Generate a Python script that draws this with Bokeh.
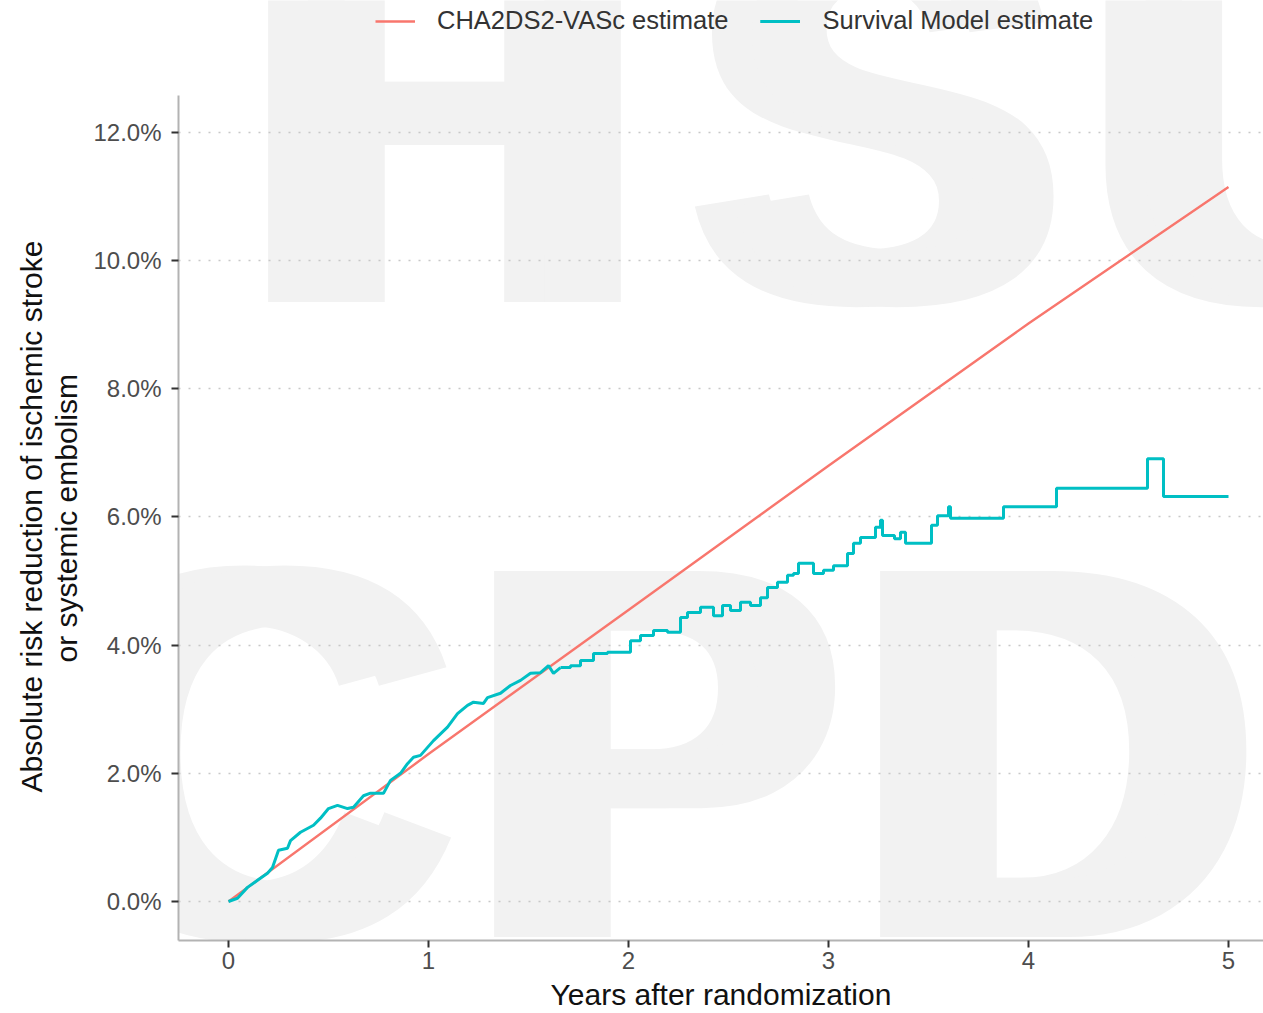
from bokeh.plotting import figure
from bokeh.models import Range1d, Legend, LegendItem, Label, PrintfTickFormatter, FixedTicker, Title
from bokeh.embed import file_html
from bokeh.resources import INLINE

# ---------------- data ----------------
x_ticks = [0, 1, 2, 3, 4, 5]
y_ticks = [0, 2, 4, 6, 8, 10, 12]

cha_years = [0, 1, 2, 3, 4, 5]
cha_arr = [0.0, 2.30, 4.55, 6.80, 9.02, 11.15]

# survival model estimate, early part (fine jagged path)
surv_t_early = [0.0, 0.045, 0.095, 0.145, 0.195, 0.22, 0.25, 0.295, 0.31, 0.36, 0.425, 0.46,
                0.5, 0.545, 0.595, 0.625, 0.675, 0.71, 0.775, 0.81, 0.86, 0.895, 0.925, 0.96,
                1.025, 1.095, 1.145, 1.195, 1.225, 1.275, 1.295, 1.36, 1.41, 1.46, 1.51, 1.56,
                1.6, 1.625, 1.66]
surv_y_early = [0.0, 0.05, 0.22, 0.33, 0.44, 0.53, 0.80, 0.83, 0.95, 1.08, 1.19, 1.30,
                1.45, 1.50, 1.45, 1.47, 1.65, 1.69, 1.69, 1.89, 2.00, 2.15, 2.25, 2.28,
                2.51, 2.72, 2.93, 3.06, 3.11, 3.09, 3.18, 3.25, 3.37, 3.45, 3.56, 3.57,
                3.68, 3.56, 3.65]

# survival model estimate, later part (step function)
surv_t_late = [1.66, 1.71, 1.76, 1.825, 1.895, 2.01, 2.06, 2.125, 2.195, 2.26, 2.295, 2.36,
               2.425, 2.47, 2.51, 2.56, 2.61, 2.66, 2.695, 2.745, 2.795, 2.825, 2.85, 2.925,
               2.975, 3.025, 3.095, 3.125, 3.16, 3.235, 3.26, 3.27, 3.33, 3.36, 3.385, 3.515,
               3.545, 3.6, 3.61, 3.875, 4.14, 4.595, 4.675, 5.0]
surv_y_late = [3.65, 3.68, 3.76, 3.87, 3.89, 4.07, 4.15, 4.23, 4.20, 4.43, 4.51, 4.59,
               4.46, 4.62, 4.54, 4.67, 4.62, 4.74, 4.90, 4.98, 5.09, 5.12, 5.28, 5.12,
               5.17, 5.24, 5.43, 5.59, 5.68, 5.84, 5.95, 5.71, 5.66, 5.76, 5.59, 5.87,
               6.02, 6.16, 5.98, 6.16, 6.45, 6.91, 6.32, 6.32]

y_title_lines = ["Absolute risk reduction of ischemic stroke", "or systemic embolism"]
x_title = "Years after randomization"
legend_labels = ["CHA2DS2-VASc estimate", "Survival Model estimate"]

# watermark letters
wm_letters = ["H", "S", "U", "C", "P", "D"]
wm_x = [0.02, 2.255, 4.225, -0.935, 1.15, 3.08]
wm_y = [12.235, 12.235, 12.235, 2.325, 2.325, 2.325]

RED = "#F8766D"
TEAL = "#00BFC4"
FONT = "Liberation Sans"

p = figure(width=1263, height=1013, output_backend="svg", toolbar_location=None,
           x_range=Range1d(-0.25, 5.175), y_range=Range1d(-0.609, 14.06),
           min_border_left=178, min_border_right=0, min_border_top=0, min_border_bottom=73,
           background_fill_color="white", border_fill_color="white")
p.outline_line_color = None

# watermark (two offset copies to thicken strokes)
for letter, lx, ly in zip(wm_letters, wm_x, wm_y):
    for off in (0, 40):
        p.add_layout(Label(x=lx, y=ly, x_offset=off, text=letter, text_font=FONT,
                           text_font_style="bold", text_font_size="532px",
                           text_color="#f2f2f2", text_align="left",
                           text_baseline="alphabetic", level="image"))

r_red = p.line(cha_years, cha_arr, line_color=RED, line_width=2.4)
r_t1 = p.line(surv_t_early, surv_y_early, line_color=TEAL, line_width=3)
r_t2 = p.step(surv_t_late, surv_y_late, mode="after", line_color=TEAL, line_width=3)

# axes
for ax in (p.xaxis[0], p.yaxis[0]):
    ax.axis_line_color = "#b3b3b3"
    ax.axis_line_width = 2
    ax.major_tick_line_color = "#333333"
    ax.major_tick_line_width = 2
    ax.major_tick_out = 7
    ax.major_tick_in = 0
    ax.minor_tick_line_color = None
    ax.major_label_text_font = FONT
    ax.major_label_text_font_size = "24px"
    ax.major_label_text_color = "#4d4d4d"
    ax.axis_label_text_font = FONT
    ax.axis_label_text_font_size = "30px"
    ax.axis_label_text_font_style = "normal"
    ax.axis_label_text_color = "#111111"

p.xaxis.ticker = FixedTicker(ticks=x_ticks)
p.yaxis.ticker = FixedTicker(ticks=y_ticks)
p.yaxis.bounds = (-0.609, 12.578)
p.yaxis.formatter = PrintfTickFormatter(format="%.1f%%")
p.xaxis.axis_label = x_title
p.xaxis.major_label_standoff = 4
p.xaxis.axis_label_standoff = 6
p.yaxis.major_label_standoff = 10

# y-axis title: two centred lines placed along the axis extent
p.add_layout(Title(text=" ", text_font_size="6px", standoff=0), "left")  # small gap
for line, off in ((y_title_lines[1], 278), (y_title_lines[0], 148)):
    p.add_layout(Title(text=line, align="left", offset=off, standoff=0,
                       text_font=FONT, text_font_size="30px", text_font_style="normal",
                       text_color="#111111"), "left")

p.xgrid.visible = False
p.ygrid.ticker = FixedTicker(ticks=y_ticks)
p.ygrid.grid_line_color = "#c8c8c8"
p.ygrid.grid_line_dash = "2 8"
p.ygrid.grid_line_width = 1.5

legend = Legend(items=[LegendItem(label=legend_labels[0], renderers=[r_red]),
                       LegendItem(label=legend_labels[1], renderers=[r_t1, r_t2])],
                orientation="horizontal", location=(197, 905),
                label_text_font=FONT, label_text_font_size="25.5px", label_text_color="#333333",
                glyph_width=40, glyph_height=24, label_standoff=22, spacing=32,
                padding=0, margin=0, border_line_color=None, background_fill_alpha=0)
p.add_layout(legend)

open("out.html", "w").write(file_html(p, INLINE))
